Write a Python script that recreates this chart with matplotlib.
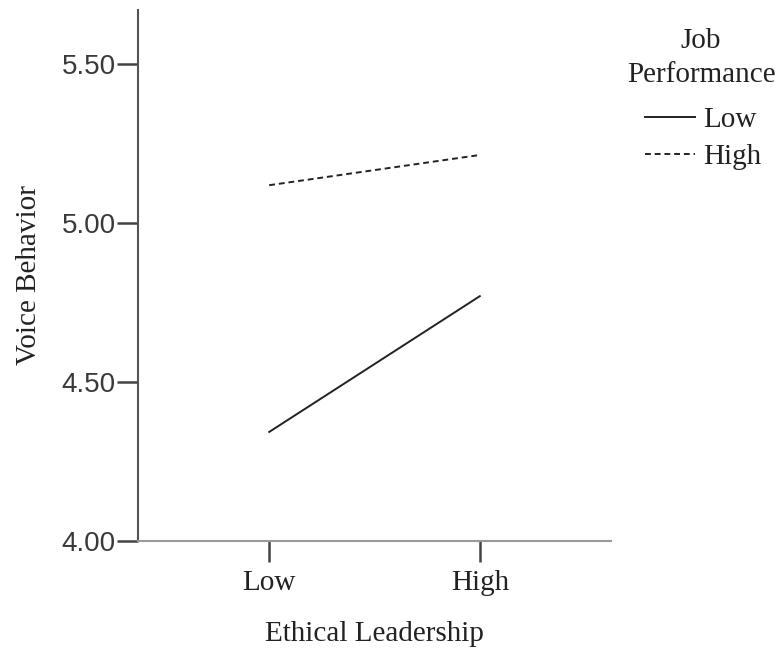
import matplotlib
matplotlib.use("Agg")
import matplotlib.pyplot as plt
from matplotlib.lines import Line2D

categories = ["Low", "High"]
low_perf = [4.343, 4.770]
high_perf = [5.119, 5.214]
yticks = [4.00, 4.50, 5.00, 5.50]
legend_title = ["Job", "Performance"]
legend_labels = ["Low", "High"]

SERIF = "Liberation Serif"
FS = 21
TXT = "#222222"

fig = plt.figure(figsize=(7.83, 6.5), dpi=100)
ax = fig.add_axes([138/783, 109/650, 473/783, 531/650])

x = list(range(len(categories)))
c = "#222222"
ax.plot(x, low_perf, color=c, lw=1.4, linestyle="-")
ax.plot(x, high_perf, color=c, lw=1.4, linestyle=(0, (3, 2)))

ax.set_xlim(-0.623, 1.623)
ax.set_ylim(4.0, 5.67)
ax.set_xticks(x)
ax.set_xticklabels(categories, family=SERIF, fontsize=FS, color=TXT)
ax.set_yticks(yticks)
ax.set_yticklabels([f"{v:.2f}" for v in yticks], family="Liberation Sans", fontsize=20, color="#3a3a3a")
for s in ["top", "right"]:
    ax.spines[s].set_visible(False)
ax.spines["left"].set_color("#555555")
ax.spines["bottom"].set_color("#999999")
ax.spines["left"].set_linewidth(1.5)
ax.spines["bottom"].set_linewidth(1.5)
ax.tick_params(axis="both", length=15, width=1.8, color="#444444")
ax.tick_params(axis="y", pad=1)
ax.tick_params(axis="x", pad=6)

ax.set_xlabel("Ethical Leadership", family=SERIF, fontsize=FS, labelpad=18, color=TXT)
ax.set_ylabel("Voice Behavior", family=SERIF, fontsize=FS, labelpad=14, color=TXT)

# legend title (two centred lines)
fig.text(701/783, 1 - 48/650, legend_title[0], ha="center", va="baseline",
         family=SERIF, fontsize=FS, color=TXT)
fig.text(701/783, 1 - 82/650, legend_title[1], ha="center", va="baseline",
         family=SERIF, fontsize=FS, color=TXT)

handles = [Line2D([], [], color=c, lw=1.4, linestyle="-"),
           Line2D([], [], color=c, lw=1.4, linestyle=(0, (3, 2)))]
leg = fig.legend(handles, legend_labels,
                 loc="upper left", bbox_to_anchor=(645/783, 1 - 107/650),
                 frameon=False, prop={"family": SERIF, "size": FS},
                 handlelength=1.7, handletextpad=0.3, labelspacing=0.36,
                 borderaxespad=0, borderpad=0)
for t in leg.get_texts():
    t.set_color(TXT)

fig.savefig("out.png", dpi=100)
